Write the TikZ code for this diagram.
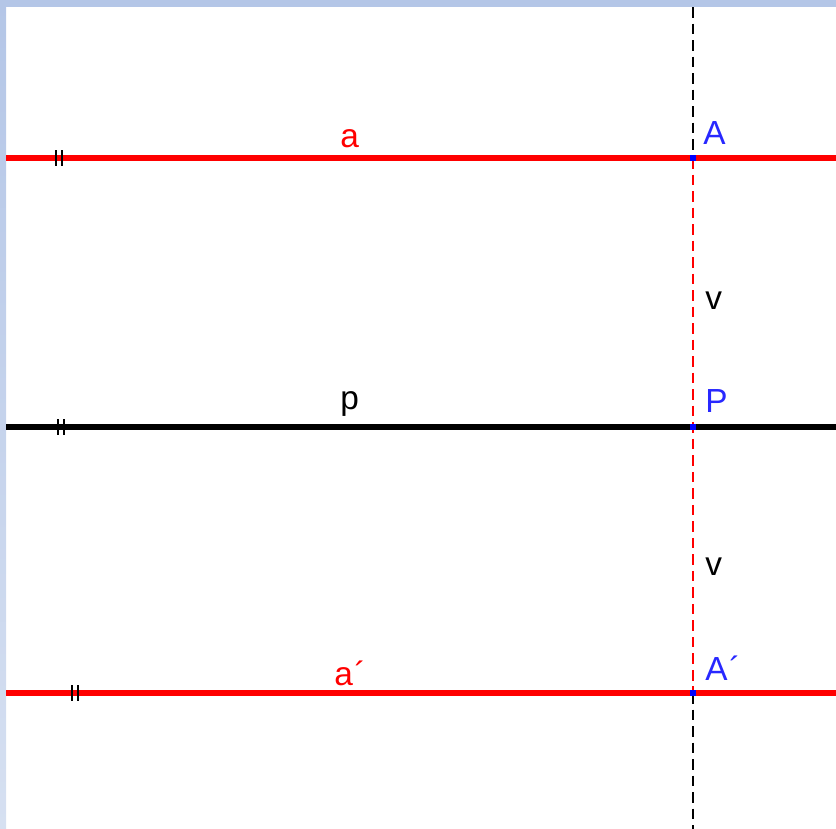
\documentclass[tikz,border=0pt]{standalone}
\usepackage{fontspec}
\setmainfont{Liberation Sans}
\usetikzlibrary{positioning}

\definecolor{ggred}{RGB}{255,0,0}
\definecolor{ggblue}{RGB}{40,40,255}
\definecolor{frametop}{RGB}{180,198,231}
\definecolor{framebot}{RGB}{214,224,241}

\begin{document}
\begin{tikzpicture}[
  x=0.02cm, y=-0.02cm,
  every node/.style={font=\fontsize{19}{21}\selectfont, inner sep=0pt, anchor=base west},
  redline/.style={draw=ggred, line width=3.6pt},
  blackline/.style={draw=black, line width=3.4pt},
  perp/.style={line width=1.2pt, dash pattern=on 6pt off 3.4pt},
  tickmark/.style={line width=1.2pt},
  ptbox/.style={rectangle, fill=blue, minimum size=0.12cm, anchor=center}
]
\useasboundingbox (0,0) rectangle (836,829);

% frame
\fill[frametop] (0,0) rectangle (836,7);
\shade[top color=frametop, bottom color=framebot] (0,0) rectangle (6,829);

% ends of the lines
\coordinate (aL) at (6,158);
\coordinate (aR) at (836,158);
\coordinate (pL) at (6,427);
\coordinate (pR) at (836,427);
\coordinate (bL) at (6,693);
\coordinate (bR) at (836,693);
\coordinate (top) at (693,7);
\coordinate (bot) at (693,829);

% points
\node[ptbox] (A) at (693,158) {};
\node[ptbox] (P) at (693,427) {};
\node[ptbox] (Ab) at (693,693) {};

% perpendicular
\draw[perp] (top) -- (A.center);
\draw[perp, ggred] (A.center) -- (Ab.center);
\draw[perp] (Ab.center) -- (bot);

% lines a, p, a'
\draw[redline] (aL) -- (aR);
\draw[blackline] (pL) -- (pR);
\draw[redline] (bL) -- (bR);

% parallel marks
\foreach \tx/\ty in {59/158, 61/427, 75/693} {
  \draw[tickmark] (\tx-3,\ty-8) -- (\tx-3,\ty+8) (\tx+3,\ty-8) -- (\tx+3,\ty+8);
}

% redraw points on top
\fill[blue] (A.south west) rectangle (A.north east);
\fill[blue] (P.south west) rectangle (P.north east);
\fill[blue] (Ab.south west) rectangle (Ab.north east);

% labels
\node[text=ggred] (la) at (340,147) {a};
\node[text=ggblue] (lA) at (703,144) {A};
\node (lv1) at (705,309) {v};
\node (lp) at (340,409) {p};
\node[text=ggblue] (lP) at (705,412) {P};
\node (lv2) at (705,575) {v};
\node[text=ggred] (lb) at (334,685) {a\kern1pt´};
\node[text=ggblue] (lAb) at (705,680) {A\kern1pt´};

\end{tikzpicture}
\end{document}
